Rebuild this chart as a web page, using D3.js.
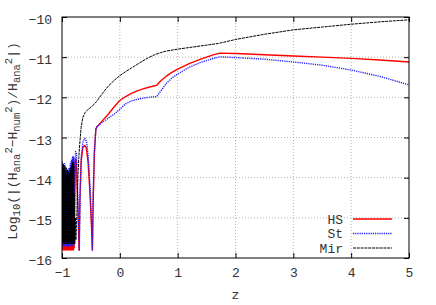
<!DOCTYPE html>
<html>
<head>
<meta charset="utf-8">
<script src="https://cdn.jsdelivr.net/npm/d3@7/dist/d3.min.js"></script>
<style>
body { margin: 0; background: #fff; }
text { font-family: "Liberation Mono", "DejaVu Sans Mono", monospace; }
</style>
</head>
<body>
<div id="chart"></div>
<script>
var width = 436;
var height = 305;
var margin = {top: 17, right: 27, bottom: 47, left: 62};

var xTicks = [-1, 0, 1, 2, 3, 4, 5];
var yTicks = [-10, -11, -12, -13, -14, -15, -16];

// noisy start (z < -0.79)
var noiseZ = [-1.000,-0.994,-0.988,-0.982,-0.976,-0.970,-0.964,-0.958,-0.952,-0.946,-0.940,-0.934,
	-0.928,-0.922,-0.916,-0.910,-0.904,-0.898,-0.892,-0.886,-0.880,-0.874,-0.868,-0.862,
	-0.856,-0.850,-0.844,-0.838,-0.832,-0.826,-0.820,-0.814,-0.808,-0.802,-0.796,-0.790];
var hsNoise = [-13.9,-15.8,-14.0,-15.75,-13.85,-15.8,-14.1,-15.75,-13.95,-15.8,-14.0,-15.75,
	-14.1,-15.8,-13.9,-15.75,-14.05,-15.8,-14.0,-15.75,-14.1,-15.8,-13.95,-15.75,
	-14.0,-15.8,-13.9,-15.75,-13.85,-15.8,-13.8,-15.75,-13.7,-15.8,-13.6,-15.75];
var stNoise = [-13.6,-15.7,-13.65,-15.65,-13.7,-15.7,-13.75,-15.65,-13.65,-15.7,-13.8,-15.65,
	-13.75,-15.7,-13.85,-15.65,-13.8,-15.7,-13.85,-15.65,-13.75,-15.7,-13.8,-15.65,
	-13.65,-15.7,-13.6,-15.65,-13.55,-15.7,-13.5,-15.65,-13.45,-15.7,-13.5,-15.65];
var mirNoise = [-13.6,-15.6,-13.7,-15.65,-13.65,-15.6,-13.8,-15.65,-13.7,-15.6,-13.85,-15.65,
	-13.75,-15.6,-13.9,-15.65,-13.8,-15.6,-13.95,-15.65,-13.85,-15.6,-13.9,-15.65,
	-13.8,-15.6,-13.75,-15.65,-13.7,-15.6,-13.65,-15.65,-13.6,-15.6,-13.7,-15.65];

// smooth part
var hsZ = [-0.78,-0.77,-0.755,-0.74,-0.72,-0.705,-0.69,-0.67,-0.64,-0.61,-0.58,-0.55,-0.52,-0.49,-0.475,
	-0.46,-0.44,-0.415,-0.4,-0.3,-0.2,-0.1,0,0.1,0.2,0.3,0.4,0.5,0.64,0.7,0.8,0.9,1.0,1.2,1.4,1.6,1.73,
	2.0,2.5,3.0,3.5,4.0,4.5,5.0];
var hsY = [-14.5,-13.55,-13.55,-14.2,-15.0,-15.8,-14.5,-13.6,-13.25,-13.2,-13.25,-13.6,-14.3,-15.2,-15.8,
	-14.5,-13.4,-12.8,-12.74,-12.58,-12.42,-12.24,-12.08,-11.98,-11.9,-11.84,-11.79,-11.75,-11.7,-11.6,-11.48,-11.38,-11.3,-11.16,-11.05,-10.95,-10.9,
	-10.91,-10.94,-10.97,-11.0,-11.03,-11.07,-11.12];
var stZ = [-0.78,-0.765,-0.75,-0.735,-0.715,-0.7,-0.685,-0.665,-0.635,-0.605,-0.575,-0.545,-0.515,-0.49,-0.475,
	-0.46,-0.44,-0.415,-0.4,-0.3,-0.2,-0.1,0,0.1,0.2,0.3,0.4,0.5,0.64,0.7,0.8,0.9,1.0,1.2,1.4,1.6,1.73,
	2.0,2.5,3.0,3.5,4.0,4.5,5.0];
var stY = [-14.3,-13.35,-13.4,-14.1,-15.0,-15.8,-14.4,-13.45,-13.1,-13.02,-13.1,-13.5,-14.2,-15.1,-15.8,
	-14.4,-13.3,-12.8,-12.74,-12.62,-12.52,-12.42,-12.3,-12.16,-12.09,-12.05,-12.02,-12.0,-11.98,-11.86,-11.66,-11.52,-11.42,-11.25,-11.13,-11.04,-10.99,
	-11.01,-11.05,-11.12,-11.2,-11.32,-11.48,-11.69];
var mirZ = [-0.785,-0.778,-0.77,-0.76,-0.745,-0.73,-0.71,-0.69,-0.67,-0.64,-0.6,-0.55,-0.5,-0.45,-0.4,-0.35,-0.3,
	-0.2,-0.1,0,0.1,0.2,0.3,0.4,0.5,0.6,0.7,0.8,1.0,1.2,1.4,1.7,2.0,2.5,3.0,3.5,4.0,4.5,5.0];
var mirY = [-14.4,-15.65,-15.0,-15.55,-15.0,-14.2,-13.5,-13.1,-12.75,-12.5,-12.38,-12.3,-12.25,-12.18,-12.1,-12.0,-11.9,
	-11.72,-11.58,-11.46,-11.36,-11.27,-11.18,-11.09,-11.01,-10.94,-10.89,-10.85,-10.8,-10.76,-10.72,-10.66,-10.56,-10.43,-10.32,-10.25,-10.18,-10.12,-10.07];

var series = [
	{name: "HS", z: noiseZ.concat(hsZ), y: hsNoise.concat(hsY), color: "#ff0000", width: 1.4, dash: null},
	{name: "St", z: noiseZ.concat(stZ), y: stNoise.concat(stY), color: "#1f1fff", width: 1.4, dash: "1.2,1"},
	{name: "Mir", z: noiseZ.concat(mirZ), y: mirNoise.concat(mirY), color: "#000000", width: 1, dash: "3,0.8"}
];

var x = d3.scaleLinear().domain([-1, 5]).range([margin.left, width - margin.right]);
var y = d3.scaleLinear().domain([-16, -10]).range([height - margin.bottom, margin.top]);

var svg = d3.select("#chart")
	.append("svg")
		.attr("width", width)
		.attr("height", height);

// grid
svg.append("g")
	.selectAll("line")
	.data(xTicks.slice(1, -1))
	.enter()
		.append("line")
			.attr("x1", function (d) { return x(d); })
			.attr("x2", function (d) { return x(d); })
			.attr("y1", y(-16))
			.attr("y2", y(-10))
			.attr("stroke", "#a0a0a0")
			.attr("stroke-width", 0.8)
			.attr("stroke-dasharray", "1,2");
svg.append("g")
	.selectAll("line")
	.data(yTicks.slice(1, -1))
	.enter()
		.append("line")
			.attr("x1", x(-1))
			.attr("x2", x(5))
			.attr("y1", function (d) { return y(d); })
			.attr("y2", function (d) { return y(d); })
			.attr("stroke", "#a0a0a0")
			.attr("stroke-width", 0.8)
			.attr("stroke-dasharray", "1,2");

// axes with inner ticks (mirrored)
function fmt(d) { return d < 0 ? "\u2212" + Math.abs(d) : String(d); }
var tick = 5;
var gx = svg.append("g")
	.attr("transform", "translate(0," + y(-16) + ")")
	.call(d3.axisBottom(x).tickValues(xTicks).tickSize(-tick).tickPadding(10).tickFormat(fmt));
var gxt = svg.append("g")
	.attr("transform", "translate(0," + y(-10) + ")")
	.call(d3.axisTop(x).tickValues(xTicks).tickSize(-tick).tickFormat(""));
var gy = svg.append("g")
	.attr("transform", "translate(" + x(-1) + ",0)")
	.call(d3.axisLeft(y).tickValues(yTicks).tickSize(-tick).tickPadding(10).tickFormat(fmt));
var gyr = svg.append("g")
	.attr("transform", "translate(" + x(5) + ",0)")
	.call(d3.axisRight(y).tickValues(yTicks).tickSize(-tick).tickFormat(""));
[gx, gxt, gy, gyr].forEach(function (g) {
	g.select(".domain").remove();
	g.selectAll("line").attr("stroke", "#000");
	g.selectAll("text")
		.attr("fill", "#333")
		.style("font-family", "'Liberation Mono', monospace")
		.style("font-size", "13px");
});
gy.selectAll("text").attr("dy", "0.5em");

// curves
var line = d3.line()
	.x(function (d) { return x(d[0]); })
	.y(function (d) { return y(d[1]); });

svg.append("defs").append("clipPath").attr("id", "clip")
	.append("rect")
		.attr("x", x(-1)).attr("y", y(-10))
		.attr("width", x(5) - x(-1)).attr("height", y(-16) - y(-10));

svg.append("g")
	.attr("clip-path", "url(#clip)")
	.selectAll("path")
	.data(series)
	.enter()
		.append("path")
			.attr("d", function (s) { return line(s.z.map(function (z, i) { return [z, s.y[i]]; })); })
			.attr("fill", "none")
			.attr("stroke", function (s) { return s.color; })
			.attr("stroke-width", function (s) { return s.width; })
			.attr("stroke-dasharray", function (s) { return s.dash; })
			.attr("stroke-linejoin", "round");

// frame
svg.append("rect")
	.attr("x", x(-1)).attr("y", y(-10))
	.attr("width", x(5) - x(-1)).attr("height", y(-16) - y(-10))
	.attr("fill", "none")
	.attr("stroke", "#000")
	.attr("stroke-width", 1);

// legend
var legend = svg.append("g")
	.selectAll("g")
	.data(series)
	.enter()
		.append("g")
			.attr("transform", function (d, i) { return "translate(0," + (219 + i * 14.5) + ")"; });
legend.append("text")
	.attr("x", 343)
	.attr("dy", "0.35em")
	.attr("text-anchor", "end")
	.attr("fill", "#333")
	.style("font-size", "13px")
	.text(function (d) { return d.name; });
legend.append("line")
	.attr("x1", 353)
	.attr("x2", 392)
	.attr("stroke", function (d) { return d.color; })
	.attr("stroke-width", function (d) { return d.width; })
	.attr("stroke-dasharray", function (d) { return d.dash; });

// axis labels
svg.append("text")
	.attr("x", (x(-1) + x(5)) / 2)
	.attr("y", 299)
	.attr("text-anchor", "middle")
	.attr("fill", "#333")
	.style("font-size", "13px")
	.text("z");

var ylab = svg.append("text")
	.attr("transform", "translate(17," + 141 + ") rotate(-90)")
	.attr("text-anchor", "middle")
	.attr("fill", "#333")
	.style("font-size", "13px");
var parts = [
	["Log", 0], ["10", -1], ["(|(H", 0], ["ana", -1], ["2", 1], ["\u2212H", 0], ["num", -1], ["2", 1],
	[")/H", 0], ["ana", -1], ["2", 1], ["|)", 0]
];
var prevShift = 0;
parts.forEach(function (p) {
	var shift = p[1] === -1 ? 3 : (p[1] === 1 ? -5 : 0);
	ylab.append("tspan")
		.attr("dy", shift - prevShift)
		.style("font-size", p[1] === 0 ? "13px" : "10.5px")
		.text(p[0]);
	prevShift = shift;
});
</script>
</body>
</html>
